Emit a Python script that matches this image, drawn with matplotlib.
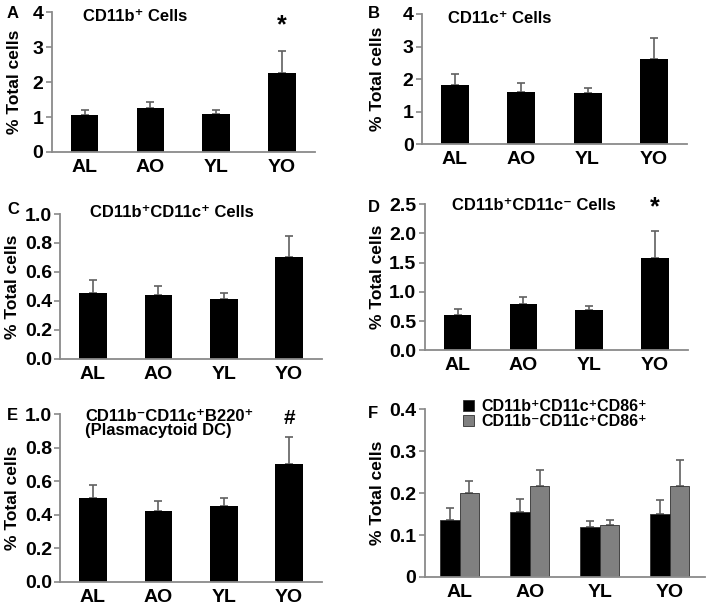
import matplotlib
matplotlib.use("Agg")
import matplotlib.pyplot as plt
import numpy as np

plt.rcParams['font.family'] = ['Liberation Sans', 'DejaVu Sans']
plt.rcParams['font.weight'] = 'bold'

groups = ['AL', 'AO', 'YL', 'YO']

# mean values and upper error (SEM) for each panel
a_vals = [1.05, 1.25, 1.08, 2.27]
a_err = [0.15, 0.17, 0.12, 0.63]
b_vals = [1.83, 1.60, 1.57, 2.63]
b_err = [0.32, 0.27, 0.16, 0.62]
c_vals = [0.455, 0.44, 0.415, 0.70]
c_err = [0.09, 0.06, 0.04, 0.145]
d_vals = [0.61, 0.80, 0.69, 1.58]
d_err = [0.09, 0.12, 0.06, 0.47]
e_vals = [0.50, 0.42, 0.455, 0.70]
e_err = [0.075, 0.06, 0.045, 0.165]
f_black = [0.137, 0.155, 0.118, 0.150]
f_black_err = [0.028, 0.032, 0.015, 0.033]
f_gray = [0.200, 0.217, 0.125, 0.217]
f_gray_err = [0.030, 0.038, 0.012, 0.063]

axis_col = '#8a8a8a'
err_col = '#606060'
W, H = 709, 608

fig = plt.figure(figsize=(7.09, 6.08), dpi=100)


def style_axis(ax, ylim, yticks, ylabels, label_x):
    ax.set_xlim(-0.5, 3.5)
    ax.set_ylim(*ylim)
    ax.set_yticks(yticks)
    ax.set_yticklabels(ylabels)
    ax.set_xticks(range(4))
    ax.set_xticklabels(groups)
    for s in ['top', 'right']:
        ax.spines[s].set_visible(False)
    for s in ['left', 'bottom']:
        ax.spines[s].set_color(axis_col)
        ax.spines[s].set_linewidth(1.3)
    ax.tick_params(axis='y', direction='out', length=4, width=1.2, color=axis_col,
                   labelsize=14, pad=2)
    ax.tick_params(axis='x', length=0, labelsize=14, pad=5)
    ax.set_ylabel('% Total cells', fontsize=12.5, fontweight='bold')
    # place y label at a fixed pixel column like the original
    pos = ax.get_position()
    ax.yaxis.set_label_coords((label_x / W - pos.x0) / pos.width, 0.5)


def single_panel(rect, vals, err, ylim, yticks, ylabels, title, tpos, letter, lpos,
                 label_x):
    ax = fig.add_axes(rect)
    x = np.arange(len(groups))
    ax.bar(x, vals, width=0.42, color='black', zorder=2)
    ax.errorbar(x, vals, yerr=[[0] * len(err), err], fmt='none', ecolor=err_col,
                elinewidth=1.2, capsize=3, capthick=1.2, zorder=1)
    style_axis(ax, ylim, yticks, ylabels, label_x)
    fig.text(tpos[0] / W, 1 - tpos[1] / H, title, fontsize=12,
             fontweight='bold', va='top', ha='left', linespacing=0.95)
    fig.text(lpos[0] / W, 1 - lpos[1] / H, letter, fontsize=12,
             fontweight='bold', va='center', ha='left')
    return ax


ax = single_panel([0.073, 0.75, 0.371, 0.23], a_vals, a_err, (0, 4), [0, 1, 2, 3, 4],
                  ['0', '1', '2', '3', '4'], 'CD11b⁺ Cells', (83, 9), 'A', (7, 14), 22)
ax.text(3, 3.63, '*', fontsize=18, fontweight='bold', ha='center', va='center')

single_panel([0.595, 0.763, 0.374, 0.214], b_vals, b_err, (0, 4), [0, 1, 2, 3, 4],
             ['0', '1', '2', '3', '4'], 'CD11c⁺ Cells', (448, 11), 'B', (368, 14), 385)

single_panel([0.085, 0.41, 0.369, 0.238], c_vals, c_err, (0, 1.0),
             [0, 0.2, 0.4, 0.6, 0.8, 1.0], ['0.0', '0.2', '0.4', '0.6', '0.8', '1.0'],
             'CD11b⁺CD11c⁺ Cells', (90, 205), 'C', (7, 210), 20)

ax = single_panel([0.599, 0.424, 0.371, 0.240], d_vals, d_err, (0, 2.5),
                  [0, 0.5, 1.0, 1.5, 2.0, 2.5], ['0.0', '0.5', '1.0', '1.5', '2.0', '2.5'],
                  'CD11b⁺CD11c⁻ Cells', (452, 198), 'D', (368, 207), 385)
ax.text(3, 2.45, '*', fontsize=18, fontweight='bold', ha='center', va='center')

ax = single_panel([0.085, 0.043, 0.369, 0.276], e_vals, e_err, (0, 1.0),
                  [0, 0.2, 0.4, 0.6, 0.8, 1.0], ['0.0', '0.2', '0.4', '0.6', '0.8', '1.0'],
                  'CD11b⁻CD11c⁺B220⁺\n(Plasmacytoid DC)', (85, 409), 'E', (7, 415), 20)
ax.text(3, 0.975, '#', fontsize=15, fontweight='bold', ha='center', va='center')

# panel F: grouped bars
ax = fig.add_axes([0.599, 0.051, 0.395, 0.276])
x = np.arange(len(groups))
w = 0.28
ax.bar(x - w / 2, f_black, width=w, color='black', edgecolor='#303030', linewidth=0.6,
       zorder=2, label='CD11b⁺CD11c⁺CD86⁺')
ax.bar(x + w / 2, f_gray, width=w, color='#808080', edgecolor='#303030', linewidth=0.6,
       zorder=2, label='CD11b⁻CD11c⁺CD86⁺')
ax.errorbar(x - w / 2, f_black, yerr=[[0] * 4, f_black_err], fmt='none', ecolor=err_col,
            elinewidth=1.2, capsize=3, capthick=1.2, zorder=1)
ax.errorbar(x + w / 2, f_gray, yerr=[[0] * 4, f_gray_err], fmt='none', ecolor=err_col,
            elinewidth=1.2, capsize=3, capthick=1.2, zorder=1)
style_axis(ax, (0, 0.4), [0, 0.1, 0.2, 0.3, 0.4], ['0', '0.1', '0.2', '0.3', '0.4'], 385)
ax.legend(loc='upper left', bbox_to_anchor=(0.136, 1.06), frameon=False, fontsize=11.5,
          handlelength=0.7, handleheight=0.7, handletextpad=0.45, labelspacing=0.0,
          borderaxespad=0, borderpad=0)
fig.text(368 / W, 1 - 413 / H, 'F', fontsize=12, fontweight='bold',
         va='center', ha='left')

fig.savefig('out.png', dpi=100)
